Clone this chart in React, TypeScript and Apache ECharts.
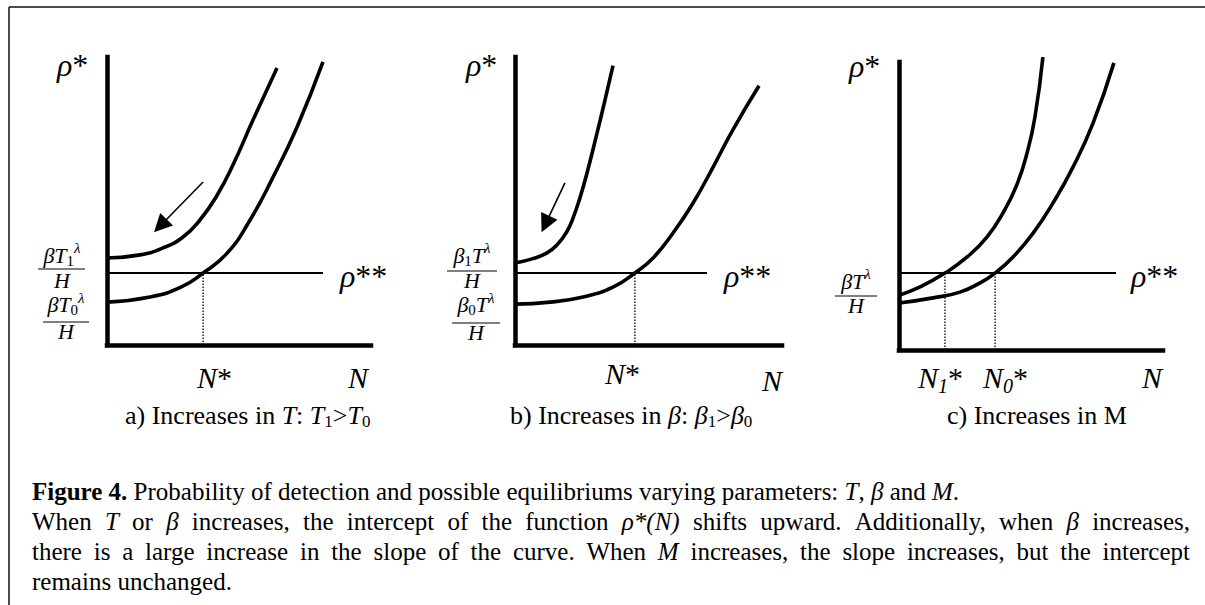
import React, { useEffect, useRef } from "react";
import * as echarts from "echarts";

const FAMILY = "Liberation Serif";

// ---- Panel a: increases in T (upper curve T1, lower curve T0) ----
const curveT1 = [[0, 3.02], [1.25, 3.13], [2.12, 3.37], [2.88, 3.75], [3.52, 4.34], [4.17, 5.2], [4.77, 6.25], [5.53, 7.81], [6.44, 9.62]];
const curveT0 = [[0, 1.49], [1.63, 1.67], [2.8, 2.01], [3.64, 2.5], [4.55, 3.19], [5.42, 4.34], [6.29, 5.83], [7.2, 7.57], [8.18, 9.83]];
const rhoStarStarA = 2.5;
const rhoLineEndA = 8.18;
const nStarA = 3.64;
const arrowA = [[3.64, 5.66], [2.02, 4.14]];

// ---- Panel b: increases in beta ----
const curveBeta1 = [[0, 2.85], [0.67, 3.0], [1.2, 3.2], [1.57, 3.47], [1.95, 3.95], [2.17, 4.4], [2.43, 5.1], [2.7, 5.98], [3.07, 7.35], [3.37, 8.5], [3.67, 9.7]];
const curveBeta0 = [[0, 1.42], [1.31, 1.49], [2.55, 1.67], [3.67, 2.01], [4.49, 2.5], [5.17, 3.02], [5.92, 3.89], [6.67, 4.93], [7.42, 6.18], [8.16, 7.47], [9.14, 9.0]];
const rhoStarStarB = 2.5;
const rhoLineEndB = 7.19;
const nStarB = 4.49;
const arrowB = [[1.87, 5.63], [1.14, 4.2]];

// ---- Panel c: increases in M ----
const curveM1 = [[0, 1.9], [0.8, 2.19], [1.74, 2.67], [2.58, 3.23], [3.33, 3.92], [3.94, 4.76], [4.47, 5.75], [4.85, 6.84], [5.15, 8.09], [5.45, 10.17]];
const curveM0 = [[0, 1.63], [1.29, 1.81], [2.31, 2.01], [3.07, 2.33], [3.64, 2.67], [4.32, 3.23], [5.08, 4.06], [5.83, 5.1], [6.59, 6.35], [7.35, 7.88], [8.14, 9.97]];
const rhoStarStarC = 2.67;
const rhoLineEndC = 8.22;
const n1StarC = 1.74;
const n0StarC = 3.64;

type Run = { t: string; st?: string; size?: number; dy?: number };

// caption under the three diagrams
const bodyLines: Run[][] = [
  [{ t: "Figure 4.", st: "b" }, { t: " Probability of detection and possible equilibriums varying parameters: " }, { t: "T", st: "i" }, { t: ", " }, { t: "β", st: "i" }, { t: " and " }, { t: "M", st: "i" }, { t: "." }],
  [{ t: "When " }, { t: "T", st: "i" }, { t: " or " }, { t: "β", st: "i" }, { t: " increases, the intercept of the function " }, { t: "ρ*(N)", st: "i" }, { t: " shifts upward. Additionally, when " }, { t: "β", st: "i" }, { t: " increases," }],
  [{ t: "there is a large increase in the slope of the curve. When " }, { t: "M", st: "i" }, { t: " increases, the slope increases, but the intercept" }],
  [{ t: "remains unchanged." }],
];
const bodyJustified = [false, true, true, false];

let measureCtx: CanvasRenderingContext2D | null = null;
function cssFont(st: string | undefined, size: number) {
  const it = st && st.includes("i") ? "italic " : "";
  const bd = st && st.includes("b") ? "bold " : "";
  return `${it}${bd}${size}px "${FAMILY}"`;
}
function measure(t: string, st: string | undefined, size: number) {
  if (!measureCtx) measureCtx = document.createElement("canvas").getContext("2d");
  measureCtx!.font = cssFont(st, size);
  return measureCtx!.measureText(t).width;
}
function runWidth(r: Run, size: number) {
  return measure(r.t, r.st, r.size ?? size);
}

// text placed with its baseline at y (the svg renderer centres text on y)
function textEl(t: string, x: number, baseline: number, st: string | undefined, size: number) {
  return {
    type: "text",
    x,
    y: baseline - size * 0.305,
    silent: true,
    style: {
      text: t,
      fontFamily: FAMILY,
      fontSize: size,
      fontStyle: st && st.includes("i") ? "italic" : "normal",
      fontWeight: st && st.includes("b") ? "bold" : "normal",
      fill: "#000",
      align: "left",
      verticalAlign: "middle",
    },
  };
}

function placeRuns(runs: Run[], x: number, baseline: number, size: number, align: "left" | "center" = "left") {
  const total = runs.reduce((s, r) => s + runWidth(r, size), 0);
  let cx = align === "center" ? x - total / 2 : x;
  const out: any[] = [];
  for (const r of runs) {
    const sz = r.size ?? size;
    out.push(textEl(r.t, cx, baseline + (r.dy ?? 0), r.st, sz));
    cx += measure(r.t, r.st, sz);
  }
  return out;
}

function placeParagraphLine(runs: Run[], left: number, right: number, baseline: number, size: number, justify: boolean) {
  const words: Run[][] = [];
  let cur: Run[] = [];
  for (const r of runs) {
    const parts = r.t.split(" ");
    parts.forEach((p, i) => {
      if (i > 0) {
        if (cur.length) words.push(cur);
        cur = [];
      }
      if (p.length) cur.push({ ...r, t: p });
    });
  }
  if (cur.length) words.push(cur);
  const widths = words.map((w) => w.reduce((s, r) => s + runWidth(r, size), 0));
  const sum = widths.reduce((a, b) => a + b, 0);
  const gap = justify && words.length > 1 ? (right - left - sum) / (words.length - 1) : measure(" ", "", size);
  const out: any[] = [];
  let x = left;
  words.forEach((w, i) => {
    out.push(...placeRuns(w, x, baseline, size));
    x += widths[i] + gap;
  });
  return out;
}

const FR = 22;
const SUB = 15;

function fractionEls(num: Run[], cx: number, numBase: number, barY: number, barX1: number, barX2: number, hBase: number) {
  return [
    ...placeRuns(num, cx, numBase, FR, "center"),
    { type: "line", silent: true, shape: { x1: barX1, y1: barY, x2: barX2, y2: barY }, style: { stroke: "#000", lineWidth: 1 } },
    ...placeRuns([{ t: "H", st: "i" }], cx, hBase, FR, "center"),
  ];
}

function buildGraphic() {
  const g: any[] = [];
  // frame
  g.push({ type: "line", silent: true, shape: { x1: 9, y1: 7, x2: 1205, y2: 7 }, style: { stroke: "#111", lineWidth: 1.5 } });
  g.push({ type: "line", silent: true, shape: { x1: 9, y1: 7, x2: 9, y2: 605 }, style: { stroke: "#111", lineWidth: 1.5 } });

  const L = 30;
  const R = 32;
  const rhoStar: Run[] = [{ t: "ρ", st: "i" }, { t: "*" }];
  const rhoStar2: Run[] = [{ t: "ρ", st: "i" }, { t: "**" }];
  const nStar: Run[] = [{ t: "N", st: "i" }, { t: "*" }];
  const n: Run[] = [{ t: "N", st: "i" }];

  // panel a
  g.push(...placeRuns(rhoStar, 57, 75, R));
  g.push(...placeRuns(rhoStar2, 340, 286, R));
  g.push(...placeRuns(nStar, 197, 387, L));
  g.push(...placeRuns(n, 348, 387, L));
  g.push(...fractionEls([{ t: "βT", st: "i" }, { t: "1", size: SUB, dy: 4 }, { t: "λ", st: "i", size: SUB, dy: -9 }], 62, 262, 269, 38, 85, 287));
  g.push(...fractionEls([{ t: "βT", st: "i" }, { t: "0", size: SUB, dy: 4 }, { t: "λ", st: "i", size: SUB, dy: -8 }], 66, 311, 322, 43, 89, 338));

  // panel b
  g.push(...placeRuns(rhoStar, 466, 75, R));
  g.push(...placeRuns(rhoStar2, 724, 286, R));
  g.push(...placeRuns(nStar, 605, 383, L));
  g.push(...placeRuns(n, 762, 390, L));
  g.push(...fractionEls([{ t: "β", st: "i" }, { t: "1", size: SUB, dy: 4 }, { t: "T", st: "i" }, { t: "λ", st: "i", size: SUB, dy: -9 }], 472, 262, 271, 447, 497, 287));
  g.push(...fractionEls([{ t: "β", st: "i" }, { t: "0", size: SUB, dy: 4 }, { t: "T", st: "i" }, { t: "λ", st: "i", size: SUB, dy: -8 }], 476, 311, 323, 452, 500, 339));

  // panel c
  g.push(...placeRuns(rhoStar, 849, 76, R));
  g.push(...placeRuns(rhoStar2, 1131, 286, R));
  g.push(...placeRuns([{ t: "N", st: "i" }, { t: "1", st: "i", size: 20, dy: 5 }, { t: "*" }], 918, 387, L));
  g.push(...placeRuns([{ t: "N", st: "i" }, { t: "0", st: "i", size: 20, dy: 5 }, { t: "*" }], 983, 387, L));
  g.push(...placeRuns(n, 1142, 387, L));
  g.push(...fractionEls([{ t: "βT", st: "i" }, { t: "λ", st: "i", size: SUB, dy: -9 }], 856, 288, 296, 835, 877, 312));

  // sub-figure captions
  const C = 26;
  const CS = 17;
  g.push(...placeRuns([{ t: "a) Increases in " }, { t: "T", st: "i" }, { t: ": " }, { t: "T", st: "i" }, { t: "1", size: CS, dy: 4 }, { t: ">" }, { t: "T", st: "i" }, { t: "0", size: CS, dy: 4 }], 125, 423, C));
  g.push(...placeRuns([{ t: "b) Increases in " }, { t: "β", st: "i" }, { t: ": " }, { t: "β", st: "i" }, { t: "1", size: CS, dy: 4 }, { t: ">" }, { t: "β", st: "i" }, { t: "0", size: CS, dy: 4 }], 510, 423, C));
  g.push(...placeRuns([{ t: "c) Increases in M" }], 947, 423, C));

  // figure caption
  bodyLines.forEach((line, i) => {
    g.push(...placeParagraphLine(line, 32, 1190, 499 + i * 30, 25, bodyJustified[i]));
  });
  return g;
}

const BLACK = "#000";

function curve(data: number[][], idx: number) {
  return {
    type: "line",
    xAxisIndex: idx,
    yAxisIndex: idx,
    data,
    smooth: 0.5,
    showSymbol: false,
    symbol: "none",
    clip: false,
    lineStyle: { color: BLACK, width: 3.6 },
    z: 3,
  };
}
function flat(y: number, xEnd: number, idx: number) {
  return {
    type: "line",
    xAxisIndex: idx,
    yAxisIndex: idx,
    data: [[0, y], [xEnd, y]],
    showSymbol: false,
    symbol: "none",
    lineStyle: { color: BLACK, width: 2 },
    z: 2,
  };
}
function drop(x: number, y: number, idx: number) {
  return {
    type: "line",
    xAxisIndex: idx,
    yAxisIndex: idx,
    data: [[x, 0], [x, y]],
    showSymbol: false,
    symbol: "none",
    lineStyle: { color: BLACK, width: 1.3, type: [1.5, 1.5] },
    z: 1,
  };
}
function arrow(coords: number[][], idx: number) {
  return {
    type: "lines",
    coordinateSystem: "cartesian2d",
    xAxisIndex: idx,
    yAxisIndex: idx,
    symbol: ["none", "path://M5,0 L10,14 L0,14 Z"],
    symbolSize: [1, 18],
    lineStyle: { color: BLACK, width: 1.6, opacity: 1, curveness: 0 },
    itemStyle: { color: BLACK },
    data: [{ coords }],
    z: 4,
  };
}

const grids = [
  { left: 107, top: 57, width: 264, height: 288 },
  { left: 515, top: 57, width: 267, height: 288 },
  { left: 899, top: 62, width: 264, height: 288 },
];

function axis(gridIndex: number) {
  return {
    type: "value",
    gridIndex,
    min: 0,
    max: 10,
    axisLine: { show: true, onZero: false, lineStyle: { color: BLACK, width: 4.5, cap: "square" } },
    axisTick: { show: false },
    axisLabel: { show: false },
    splitLine: { show: false },
  };
}

export default function App() {
  const ref = useRef<HTMLDivElement>(null);
  useEffect(() => {
    if (!ref.current) return;
    const chart = echarts.init(ref.current, undefined, { renderer: "svg" });
    chart.setOption({
      animation: false,
      backgroundColor: "#fff",
      grid: grids,
      xAxis: [0, 1, 2].map(axis),
      yAxis: [0, 1, 2].map(axis),
      series: [
        flat(rhoStarStarA, rhoLineEndA, 0),
        drop(nStarA, rhoStarStarA, 0),
        curve(curveT1, 0),
        curve(curveT0, 0),
        arrow(arrowA, 0),
        flat(rhoStarStarB, rhoLineEndB, 1),
        drop(nStarB, rhoStarStarB, 1),
        curve(curveBeta1, 1),
        curve(curveBeta0, 1),
        arrow(arrowB, 1),
        flat(rhoStarStarC, rhoLineEndC, 2),
        drop(n1StarC, rhoStarStarC, 2),
        drop(n0StarC, rhoStarStarC, 2),
        curve(curveM1, 2),
        curve(curveM0, 2),
      ],
      graphic: { elements: buildGraphic() },
    });
    return () => chart.dispose();
  }, []);
  return (
    <div
      ref={ref}
      style={{ position: "fixed", left: 0, top: 0, width: 1205, height: 605, background: "#fff" }}
    />
  );
}
